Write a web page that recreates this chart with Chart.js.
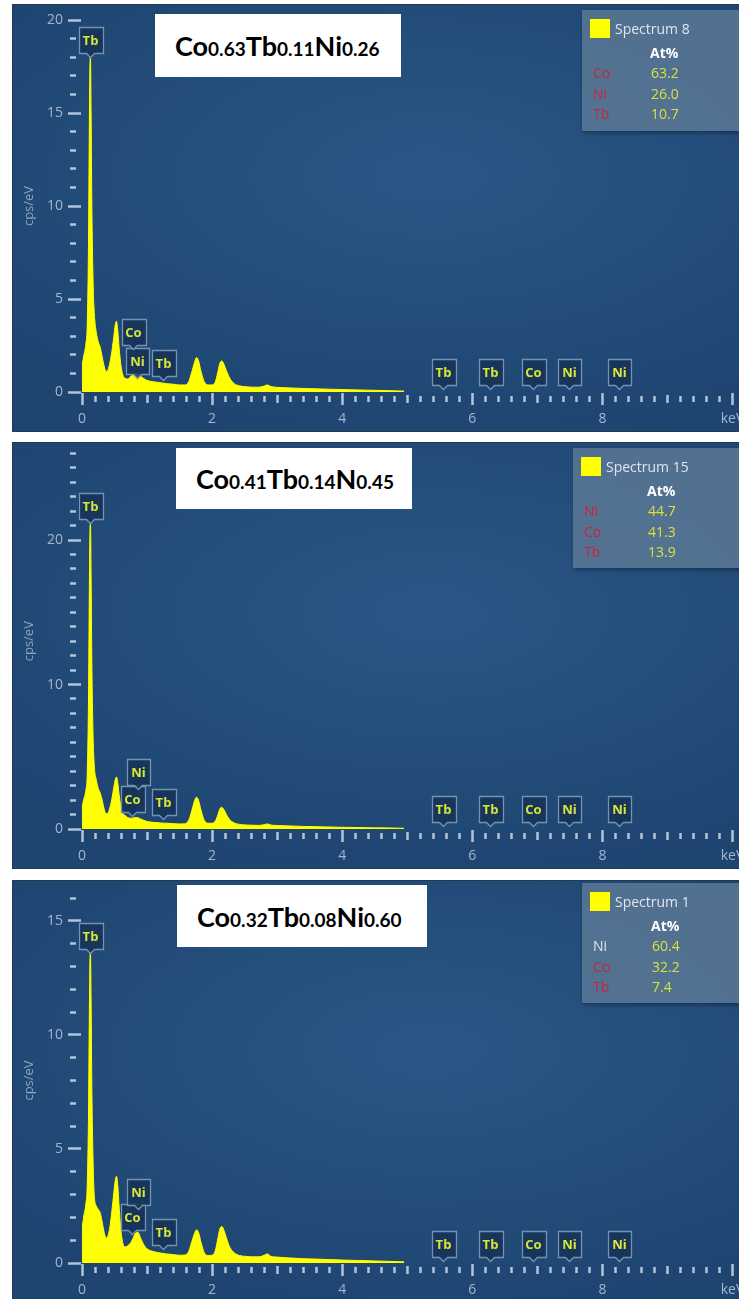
<!doctype html>
<html><head><meta charset="utf-8">
<title>EDS spectra</title>
<script src="https://cdn.jsdelivr.net/npm/chart.js@4"></script>
<style>
  html,body{margin:0;padding:0;background:#fff;}
  body{width:739px;height:1299px;overflow:hidden;position:relative;font-family:"Open Sans","Noto Sans",sans-serif;}
  .panel{position:absolute;left:12px;width:760px;overflow:hidden;
    background:radial-gradient(ellipse 75% 65% at 55% 40%, #2a5786 0%, #244e7c 45%, #1e4470 100%);
    box-shadow:inset 0 0 0 1px #213850;}
  .panel canvas{position:absolute;left:0;top:0;}
  .formula{position:absolute;background:#fff;color:#000;font-family:Lato,"Open Sans",sans-serif;font-weight:700;font-size:27px;
    display:flex;align-items:center;padding-left:20px;box-sizing:border-box;white-space:nowrap;}
  .formula sub{font-size:19px;vertical-align:baseline;position:relative;top:3px;}
  .legend{position:absolute;width:190px;background:rgba(96,124,153,0.78);box-shadow:1px 2px 4px rgba(0,0,0,0.35);font-size:14px;}
  .legend span{position:absolute;line-height:20px;white-space:nowrap;}
  .legend .sw{left:8px;top:9px;width:20px;height:19px;background:#ffff00;}
  .legend .sname{left:33px;top:9px;color:#dfe6ee;}
  .legend .at{top:33px;color:#fff;font-weight:700;}
  .legend .el{left:11px;}
  .legend .val{color:#d9e23c;}
</style>
</head><body>

<div class="panel" id="p1" style="top:4px;height:428px"><canvas id="c1" width="753" height="428"></canvas></div>
<div class="panel" id="p2" style="top:442px;height:427px"><canvas id="c2" width="753" height="427"></canvas></div>
<div class="panel" id="p3" style="top:880px;height:425px"><canvas id="c3" width="753" height="425"></canvas></div>

<script>
// energy axis (keV), shared by the three spectra
const energies = [0.00, 0.03, 0.06, 0.08, 0.10, 0.11, 0.12, 0.13, 0.14, 0.15, 0.17, 0.19, 0.22, 0.25, 0.28, 0.31,
  0.34, 0.37, 0.40, 0.43, 0.46, 0.49, 0.51, 0.53, 0.55, 0.57, 0.60, 0.63, 0.66, 0.70, 0.74, 0.78, 0.82, 0.86, 0.90,
  0.95, 1.00, 1.10, 1.20, 1.30, 1.40, 1.50, 1.58, 1.64, 1.69, 1.73, 1.76, 1.79, 1.83, 1.88, 1.94, 2.00, 2.05, 2.09,
  2.12, 2.15, 2.18, 2.22, 2.27, 2.34, 2.42, 2.52, 2.62, 2.72, 2.80, 2.85, 2.90, 3.00, 3.20, 3.40, 3.60, 3.80, 4.00,
  4.25, 4.50, 4.75, 4.95];

// cps/eV, Spectrum 8 (Co0.63Tb0.11Ni0.26)
const counts8 = [1.4, 2.0, 2.6, 3.6, 8.0, 13.0, 17.2, 18.0, 15.0, 10.5, 6.0, 4.2, 3.2, 2.7, 2.4, 1.9,
  1.4, 1.1, 1.2, 1.6, 2.2, 3.0, 3.6, 3.8, 3.3, 2.4, 1.4, 0.9, 0.75, 0.7, 0.8, 0.95, 1.0, 0.95, 0.85,
  0.72, 0.62, 0.55, 0.5, 0.45, 0.42, 0.38, 0.38, 0.55, 1.1, 1.6, 1.85, 1.7, 1.1, 0.55, 0.38, 0.38, 0.55, 1.1,
  1.55, 1.67, 1.5, 1.15, 0.75, 0.45, 0.33, 0.28, 0.26, 0.26, 0.32, 0.38, 0.3, 0.25, 0.22, 0.19, 0.17, 0.15, 0.13,
  0.11, 0.09, 0.07, 0.05];

// cps/eV, Spectrum 15 (Co0.41Tb0.14Ni0.45)
const counts15 = [1.5, 2.1, 2.7, 3.8, 9.0, 15.0, 20.0, 21.2, 17.5, 12.0, 6.5, 4.3, 3.4, 2.8, 2.5, 2.0,
  1.4, 1.05, 1.1, 1.5, 2.1, 2.9, 3.4, 3.6, 3.2, 2.4, 1.5, 1.05, 0.95, 0.8, 0.75, 0.75, 0.8, 0.78, 0.7,
  0.6, 0.52, 0.46, 0.42, 0.4, 0.37, 0.35, 0.36, 0.6, 1.3, 1.95, 2.2, 2.0, 1.3, 0.6, 0.4, 0.4, 0.55, 1.0,
  1.4, 1.5, 1.35, 1.0, 0.65, 0.42, 0.32, 0.28, 0.26, 0.25, 0.3, 0.35, 0.28, 0.24, 0.21, 0.18, 0.16, 0.14, 0.12,
  0.1, 0.08, 0.07, 0.05];

// cps/eV, Spectrum 1 (Co0.32Tb0.08Ni0.60)
const counts1 = [1.5, 2.1, 2.6, 3.4, 6.5, 10.0, 13.0, 13.6, 11.5, 8.0, 4.5, 2.9, 2.5, 2.35, 2.2, 1.8,
  1.35, 1.1, 1.2, 1.6, 2.3, 3.1, 3.6, 3.8, 3.4, 2.5, 1.4, 0.85, 0.7, 0.75, 0.85, 1.05, 1.3, 1.35, 1.1,
  0.8, 0.62, 0.5, 0.44, 0.4, 0.37, 0.34, 0.35, 0.5, 0.95, 1.3, 1.45, 1.35, 0.9, 0.45, 0.33, 0.34, 0.55, 1.1,
  1.5, 1.6, 1.45, 1.1, 0.7, 0.45, 0.33, 0.29, 0.27, 0.27, 0.34, 0.4, 0.3, 0.26, 0.22, 0.19, 0.17, 0.15, 0.13,
  0.11, 0.09, 0.07, 0.05];

// peak labels: element, energy (keV) and the height (cps/eV) the label points at
const markerLabels8 = ['Tb', 'Ni', 'Co', 'Tb', 'Tb', 'Tb', 'Co', 'Ni', 'Ni'];
const markerEnergies8 = [0.13, 0.85, 0.78, 1.25, 5.55, 6.27, 6.93, 7.48, 8.26];
const markerHeights8 = [18.0, 0.75, 2.3, 0.65, 0.16, 0.16, 0.16, 0.16, 0.16];

const markerLabels15 = ['Tb', 'Co', 'Ni', 'Tb', 'Tb', 'Tb', 'Co', 'Ni', 'Ni'];
const markerEnergies15 = [0.13, 0.77, 0.86, 1.25, 5.55, 6.27, 6.93, 7.48, 8.26];
const markerHeights15 = [21.2, 0.9, 2.75, 0.7, 0.2, 0.2, 0.2, 0.2, 0.2];

const markerLabels1 = ['Tb', 'Co', 'Ni', 'Tb', 'Tb', 'Tb', 'Co', 'Ni', 'Ni'];
const markerEnergies1 = [0.13, 0.77, 0.86, 1.25, 5.55, 6.27, 6.93, 7.48, 8.26];
const markerHeights1 = [13.6, 1.27, 2.37, 0.6, 0.1, 0.1, 0.1, 0.1, 0.1];

// quantification boxes
const quantElements8 = ['Co', 'Ni', 'Tb'];
const quantValues8 = ['63.2', '26.0', '10.7'];
const quantElements15 = ['Ni', 'Co', 'Tb'];
const quantValues15 = ['44.7', '41.3', '13.9'];
const quantElements1 = ['Ni', 'Co', 'Tb'];
const quantValues1 = ['60.4', '32.2', '7.4'];

const YELLOW = '#ffff00';
const TICK = '#b2c4d6';
const LABEL = '#a3b7cb';

const peakMarkers = {
  id: 'peakMarkers',
  afterDatasetsDraw(chart, args, opts) {
    const { ctx, scales: { x, y } } = chart;
    ctx.save();
    ctx.font = '700 13px "Open Sans", sans-serif';
    ctx.textAlign = 'center';
    ctx.textBaseline = 'middle';
    opts.labels.forEach((lab, i) => {
      const px = Math.round(x.getPixelForValue(opts.energies[i])) + 0.5;
      const tip = y.getPixelForValue(opts.heights[i]);
      const w = Math.round(ctx.measureText(lab).width) + 8;
      const h = 26;
      const b = Math.round(tip - 4) + 0.5;
      const l = Math.round(px - w / 2) + 0.5;
      ctx.beginPath();
      ctx.moveTo(l, b - h);
      ctx.lineTo(l + w, b - h);
      ctx.lineTo(l + w, b);
      ctx.lineTo(px + 4, b);
      ctx.lineTo(px, b + 4);
      ctx.lineTo(px - 4, b);
      ctx.lineTo(l, b);
      ctx.closePath();
      ctx.fillStyle = 'rgba(22,50,86,0.85)';
      ctx.fill();
      ctx.lineWidth = 1.3;
      ctx.strokeStyle = '#7393b4';
      ctx.stroke();
      ctx.fillStyle = '#d8e63a';
      ctx.fillText(lab, px, b - h / 2 + 1);
    });
    ctx.restore();
  }
};

function isMult(v, n) {
  const r = Math.round(v);
  return Math.abs(v - r) < 1e-6 && r % n === 0;
}

function makeChart(id, counts, cfg, markers) {
  return new Chart(document.getElementById(id), {
    type: 'line',
    data: {
      datasets: [{
        data: energies.map((e, i) => ({ x: e, y: counts[i] })),
        borderColor: YELLOW,
        backgroundColor: YELLOW,
        borderWidth: 1,
        pointRadius: 0,
        fill: 'origin',
        cubicInterpolationMode: 'monotone'
      }]
    },
    options: {
      responsive: false,
      animation: false,
      layout: { padding: { top: cfg.top, left: 0, right: 0, bottom: 0 } },
      plugins: { legend: { display: false }, tooltip: { enabled: false }, peakMarkers: markers },
      scales: {
        x: {
          type: 'linear', min: 0, max: 10.5,
          afterFit(s) { s.height = cfg.xh; },
          border: { display: false },
          grid: {
            drawOnChartArea: false, tickLength: 14, tickWidth: 2.5, tickColor: TICK,
            tickBorderDash: (c) => isMult(c.tick.value, 2) ? [0, 1, 12, 100] : (isMult(c.tick.value, 1) ? [0, 3, 8, 100] : [0, 4, 6, 100])
          },
          ticks: {
            stepSize: 0.2, autoSkip: false, maxRotation: 0, includeBounds: false, padding: 5,
            color: LABEL, font: { size: 14, family: '"Open Sans", sans-serif' },
            callback: (v) => isMult(v, 2) ? (Math.round(v) === 10 ? 'keV' : String(Math.round(v))) : ''
          }
        },
        y: {
          min: 0, max: cfg.yMax,
          afterFit(s) { s.width = 70; },
          border: { display: false },
          grid: {
            drawOnChartArea: false, tickLength: 16, tickWidth: 2.5, tickColor: TICK,
            tickBorderDash: (c) => isMult(c.tick.value, cfg.every) ? [0, 2, 13, 100] : [0, 4, 6, 100]
          },
          ticks: {
            stepSize: 1, autoSkip: false, padding: 3,
            color: LABEL, font: { size: 14, family: '"Open Sans", sans-serif' },
            callback: (v) => isMult(v, cfg.every) ? String(Math.round(v)) : ''
          },
          title: {
            display: true, text: 'cps/eV', color: '#8ea6be',
            font: { size: 13, family: '"Open Sans", sans-serif' }, padding: { top: 9, bottom: 0 }
          }
        }
      }
    },
    plugins: [peakMarkers]
  });
}

function addFormula(panelId, html, box) {
  const d = document.createElement('div');
  d.className = 'formula';
  Object.assign(d.style, { left: box[0] + 'px', top: box[1] + 'px', width: box[2] + 'px', height: box[3] + 'px' });
  d.innerHTML = html;
  document.getElementById(panelId).appendChild(d);
}

function addQuant(panelId, name, els, vals, pos, nameColors) {
  const d = document.createElement('div');
  d.className = 'legend';
  Object.assign(d.style, { left: pos[0] + 'px', top: pos[1] + 'px', height: pos[2] + 'px' });
  let html = `<span class="sw"></span><span class="sname">${name}</span><span class="at" style="left:${pos[3]}px">At%</span>`;
  els.forEach((el, i) => {
    const top = 53 + i * 20.5;
    html += `<span class="el" style="top:${top}px;color:${nameColors[i]}">${el}</span>`;
    html += `<span class="val" style="top:${top}px;left:${pos[3] + 1}px">${vals[i]}</span>`;
  });
  d.innerHTML = html;
  document.getElementById(panelId).appendChild(d);
}

const RED = '#c8243f';

makeChart('c1', counts8, { top: 16, xh: 40, yMax: 20, every: 5 },
  { labels: markerLabels8, energies: markerEnergies8, heights: markerHeights8 });
makeChart('c2', counts15, { top: 10, xh: 40, yMax: 26, every: 10 },
  { labels: markerLabels15, energies: markerEnergies15, heights: markerHeights15 });
makeChart('c3', counts1, { top: 18, xh: 42, yMax: 16, every: 5 },
  { labels: markerLabels1, energies: markerEnergies1, heights: markerHeights1 });

addFormula('p1', 'Co<sub>0.63</sub>Tb<sub>0.11</sub>Ni<sub>0.26</sub>', [143, 10, 246, 63]);
addFormula('p2', 'Co<sub>0.41</sub>Tb<sub>0.14</sub>N<sub>0.45</sub>', [164, 6, 236, 61]);
addFormula('p3', 'Co<sub>0.32</sub>Tb<sub>0.08</sub>Ni<sub>0.60</sub>', [165, 5, 250, 62]);

addQuant('p1', 'Spectrum 8', quantElements8, quantValues8, [570, 6, 121, 68], [RED, RED, RED]);
addQuant('p2', 'Spectrum 15', quantElements15, quantValues15, [561, 6, 120, 74], [RED, RED, RED]);
addQuant('p3', 'Spectrum 1', quantElements1, quantValues1, [570, 3, 120, 69], ['#dfe4ea', RED, RED]);
</script>
</body></html>
